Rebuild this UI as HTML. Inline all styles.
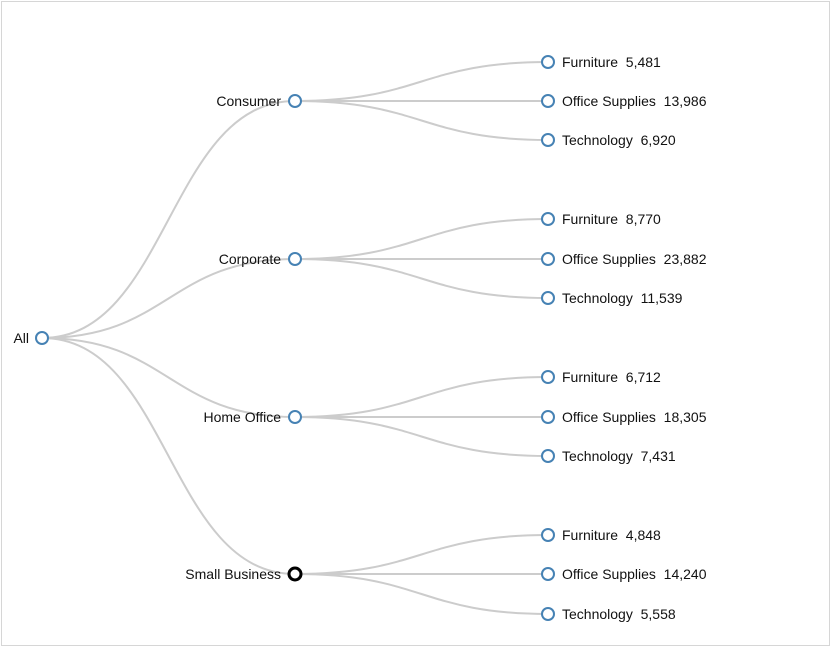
<!DOCTYPE html>
<html><head><style>
html,body{margin:0;padding:0;background:#fff;}
svg{display:block;font-family:"Liberation Sans",Arial,sans-serif;font-size:14px;}
text{white-space:pre;}
.l{fill:none;stroke:#ccc;stroke-width:2;}
.n{fill:#fff;stroke:steelblue;stroke-width:2;}
</style></head><body>
<svg width="832" height="648" viewBox="0 0 832 648">
<rect x="1.5" y="1.5" width="828" height="644" fill="#fff" stroke="#d6d6d6" stroke-width="1"/>
<g>
<path class="l" d="M42,338C168.5,338 168.5,101 295,101"/>
<path class="l" d="M42,338C168.5,338 168.5,259 295,259"/>
<path class="l" d="M42,338C168.5,338 168.5,417 295,417"/>
<path class="l" d="M42,338C168.5,338 168.5,574 295,574"/>
<path class="l" d="M295,101C421.5,101 421.5,62 548,62"/>
<path class="l" d="M295,101L548,101"/>
<path class="l" d="M295,101C421.5,101 421.5,140 548,140"/>
<path class="l" d="M295,259C421.5,259 421.5,219 548,219"/>
<path class="l" d="M295,259L548,259"/>
<path class="l" d="M295,259C421.5,259 421.5,298 548,298"/>
<path class="l" d="M295,417C421.5,417 421.5,377 548,377"/>
<path class="l" d="M295,417L548,417"/>
<path class="l" d="M295,417C421.5,417 421.5,456 548,456"/>
<path class="l" d="M295,574C421.5,574 421.5,535 548,535"/>
<path class="l" d="M295,574L548,574"/>
<path class="l" d="M295,574C421.5,574 421.5,614 548,614"/>
</g>
<g>
<circle class="n" cx="42" cy="338" r="6"/>
<circle class="n" cx="295" cy="101" r="6"/>
<circle class="n" cx="295" cy="259" r="6"/>
<circle class="n" cx="295" cy="417" r="6"/>
<circle cx="295" cy="574" r="6" fill="#fff" stroke="#000" stroke-width="3"/>
<circle class="n" cx="548" cy="62" r="6"/>
<circle class="n" cx="548" cy="101" r="6"/>
<circle class="n" cx="548" cy="140" r="6"/>
<circle class="n" cx="548" cy="219" r="6"/>
<circle class="n" cx="548" cy="259" r="6"/>
<circle class="n" cx="548" cy="298" r="6"/>
<circle class="n" cx="548" cy="377" r="6"/>
<circle class="n" cx="548" cy="417" r="6"/>
<circle class="n" cx="548" cy="456" r="6"/>
<circle class="n" cx="548" cy="535" r="6"/>
<circle class="n" cx="548" cy="574" r="6"/>
<circle class="n" cx="548" cy="614" r="6"/>
</g>
<g text-anchor="end" fill="#111">
<text x="29" y="343">All</text>
<text x="281" y="106">Consumer</text>
<text x="281" y="264">Corporate</text>
<text x="281" y="422">Home Office</text>
<text x="281" y="579">Small Business</text>
</g>
<g fill="#111">
<text x="562" y="67">Furniture  5,481</text>
<text x="562" y="106">Office Supplies  13,986</text>
<text x="562" y="145">Technology  6,920</text>
<text x="562" y="224">Furniture  8,770</text>
<text x="562" y="264">Office Supplies  23,882</text>
<text x="562" y="303">Technology  11,539</text>
<text x="562" y="382">Furniture  6,712</text>
<text x="562" y="422">Office Supplies  18,305</text>
<text x="562" y="461">Technology  7,431</text>
<text x="562" y="540">Furniture  4,848</text>
<text x="562" y="579">Office Supplies  14,240</text>
<text x="562" y="619">Technology  5,558</text>
</g>
</svg>
</body></html>
